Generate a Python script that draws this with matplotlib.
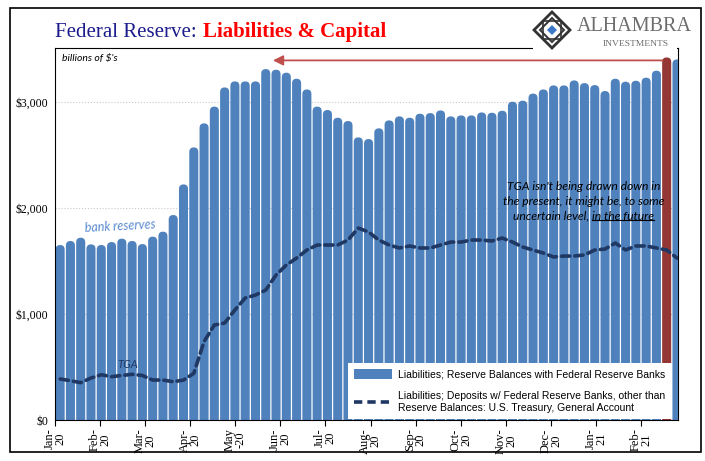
import numpy as np
import matplotlib.pyplot as plt
from matplotlib.patches import FancyBboxPatch, Rectangle, Polygon, Patch
from matplotlib.lines import Line2D

# weekly, Jan 1 2020 .. Feb 24 2021 (billions of $)
reserves = [1651, 1689, 1720, 1657, 1651, 1679, 1711, 1689, 1660, 1730,
            1777, 1934, 2223, 2572, 2799, 2957, 3138, 3195, 3195, 3195,
            3311, 3305, 3277, 3220, 3119, 2957, 2925, 2852, 2821, 2667,
            2651, 2752, 2827, 2865, 2852, 2890, 2896, 2921, 2865, 2874,
            2874, 2902, 2899, 2918, 3003, 3013, 3080, 3119, 3157, 3157,
            3204, 3179, 3160, 3104, 3220, 3192, 3201, 3230, 3296, 3421, 3402]
tga = [387, 371, 352, 396, 427, 409, 420, 431, 420, 377,
       377, 361, 377, 440, 740, 896, 915, 1038, 1151, 1179,
       1226, 1368, 1462, 1528, 1604, 1651, 1651, 1651, 1698, 1811,
       1774, 1698, 1651, 1623, 1642, 1623, 1623, 1651, 1679, 1679,
       1698, 1698, 1689, 1717, 1679, 1632, 1604, 1575, 1538, 1547,
       1547, 1557, 1604, 1613, 1670, 1604, 1642, 1642, 1623, 1604, 1528]
highlight = 59  # the latest full week, drawn in red
month_labels = ["Jan-\n20", "Feb-\n20", "Mar-\n20", "Apr-\n20", "May\n-20",
                "Jun-\n20", "Jul-\n20", "Aug-\n20", "Sep-\n20", "Oct-\n20",
                "Nov-\n20", "Dec-\n20", "Jan-\n21", "Feb-\n21"]

BLUE = "#4f81bd"
RED_BAR = "#943634"
NAVY = "#1f3864"
SERIF = "Liberation Serif"
ITAL = "Lato"

W, H = 705, 461


def px(x, y):
    return x / W, 1 - y / H


fig = plt.figure(figsize=(W / 100, H / 100), dpi=100)
fig.patch.set_facecolor("white")
ax = fig.add_axes([55 / W, 41 / H, 623 / W, 372 / H])

xs = np.arange(len(reserves))
ax.set_xlim(-0.5, 60.1)
ax.set_ylim(0, 3510)

# rounded-top bars: keep corners circular in pixel space
sx = ax.bbox.width / 60.6
sy = ax.bbox.height / 3510
aspect = sx / sy
bw = 0.88
for i, v in zip(xs, reserves):
    c = RED_BAR if i == highlight else BLUE
    ax.add_patch(FancyBboxPatch((i - bw / 2, -400), bw, v + 400,
                                boxstyle=f"round,pad=0,rounding_size={bw / 2}",
                                mutation_aspect=aspect, fc=c, ec="none",
                                zorder=2))

ax.plot(xs, tga, color=NAVY, lw=2.6, ls=(0, (2.3, 1.4)),
        dash_capstyle="round", zorder=4)

ax.annotate("", xy=(20.7, 3393), xytext=(58.6, 3393),
            arrowprops=dict(arrowstyle="-|>,head_length=0.5,head_width=0.25",
                            color="#c0504d", lw=1.3, mutation_scale=12,
                            shrinkA=0, shrinkB=0), zorder=5)

ax.set_yticks([0, 1000, 2000, 3000])
ax.set_yticklabels(["$0", "$1,000", "$2,000", "$3,000"], family=SERIF,
                   fontsize=8.5)
ax.tick_params(axis="y", length=0, pad=5)
ax.yaxis.grid(True, color="#c8c8c8", ls=":", lw=0.8)
ax.set_axisbelow(True)

step = 57.0 / 13
ax.set_xticks([-0.5 + k * step for k in range(len(month_labels))])
ax.set_xticklabels(month_labels, rotation=90, family=SERIF, fontsize=9,
                   linespacing=0.85)
ax.tick_params(axis="x", direction="out", length=4, width=0.8, pad=2)

for s in ax.spines.values():
    s.set_color("black")
    s.set_linewidth(0.8)
ax.spines["right"].set_zorder(1)

ax.text(0.2, 3415, "billions of $'s", family=ITAL, style="italic",
        fontsize=7.5, va="center")
ax.text(5.8, 1830, "bank reserves", family=ITAL, style="italic",
        fontsize=9, color="#5a8ad0", ha="center", va="center", rotation=3)
ax.text(6.6, 528, "TGA", family=ITAL, style="italic", fontsize=8,
        color=NAVY, ha="center", va="center")

note_kw = dict(family=ITAL, style="italic", fontsize=8.7, ha="center",
               va="center", color="black", zorder=6)
ax.text(50.9, 2207, "TGA isn't being drawn down in", **note_kw)
ax.text(50.9, 2066, "the present, it might be, to some", **note_kw)
t3 = ax.text(50.9, 1925, "uncertain level, in the future", **note_kw)

handles = [Patch(fc=BLUE, ec="none"),
           Line2D([], [], color=NAVY, lw=2.6, ls=(0, (2.3, 1.4)))]
labels = ["Liabilities; Reserve Balances with Federal Reserve Banks",
          "Liabilities; Deposits w/ Federal Reserve Banks, other than\n"
          "Reserve Balances: U.S. Treasury, General Account"]
leg = ax.legend(handles, labels, loc="lower left", bbox_to_anchor=(0.469, 0.0),
                prop=dict(family="Liberation Sans", size=7.5), frameon=True,
                fancybox=False, edgecolor="none", facecolor="white",
                framealpha=1, handlelength=3.6, handleheight=1.0,
                labelspacing=1.1, borderpad=0.6, borderaxespad=0.1,
                handletextpad=0.6)
leg.set_zorder(7)

# title, two colours
t1 = fig.text(*px(55, 37), "Federal Reserve:", family=SERIF, fontsize=15,
              color="#1c1c8c", va="baseline")
fig.canvas.draw()
r = fig.canvas.get_renderer()
x1 = t1.get_window_extent(r).x1
fig.text((x1 + 6) / W, 1 - 37 / H, "Liabilities & Capital", family=SERIF,
         fontsize=15, fontweight="bold", color="#ff0000", va="baseline")

# underline "in the future"
bb = t3.get_window_extent(r)
tmp = ax.text(0, 0, "in the future", **note_kw)
wpart = tmp.get_window_extent(r).width
tmp.remove()
fig.add_artist(Line2D([(bb.x1 - wpart) / W, bb.x1 / W],
                      [(bb.y0 + 1) / H] * 2, transform=fig.transFigure,
                      color="black", lw=0.8))

# logo
fig.add_artist(Rectangle(px(533, 50), 144 / W, 40 / H, transform=fig.transFigure,
                         fc="white", ec="none", zorder=1))
cx, cy = 552, 30
for rr, lw in ((18, 2.0), (12, 1.4)):
    pts = [px(cx, cy - rr), px(cx + rr, cy), px(cx, cy + rr), px(cx - rr, cy)]
    fig.add_artist(Polygon(pts, closed=True, transform=fig.transFigure,
                           fc="none", ec="#333333", lw=lw, zorder=2))
q = 9
sq = [px(cx - q, cy - q), px(cx + q, cy - q), px(cx + q, cy + q), px(cx - q, cy + q)]
fig.add_artist(Polygon(sq, closed=True, transform=fig.transFigure,
                       fc="none", ec="#333333", lw=1.2, zorder=2))
rr = 5
pts = [px(cx, cy - rr), px(cx + rr, cy), px(cx, cy + rr), px(cx - rr, cy)]
fig.add_artist(Polygon(pts, closed=True, transform=fig.transFigure,
                       fc="#3c78c8", ec="none", zorder=3))
fig.text(*px(577, 31), "ALHAMBRA", family=SERIF, fontsize=14.5, color="#6d6d6d",
         va="baseline")
fig.text(*px(636, 46), "INVESTMENTS", family=SERIF, fontsize=6.8,
         color="#6d6d6d", va="baseline", ha="center")

# outer frame
fig.add_artist(Rectangle(px(10, 452), 691 / W, 444 / H, transform=fig.transFigure,
                         fc="none", ec="black", lw=1.2, zorder=1))

fig.savefig("out.png", dpi=100)
